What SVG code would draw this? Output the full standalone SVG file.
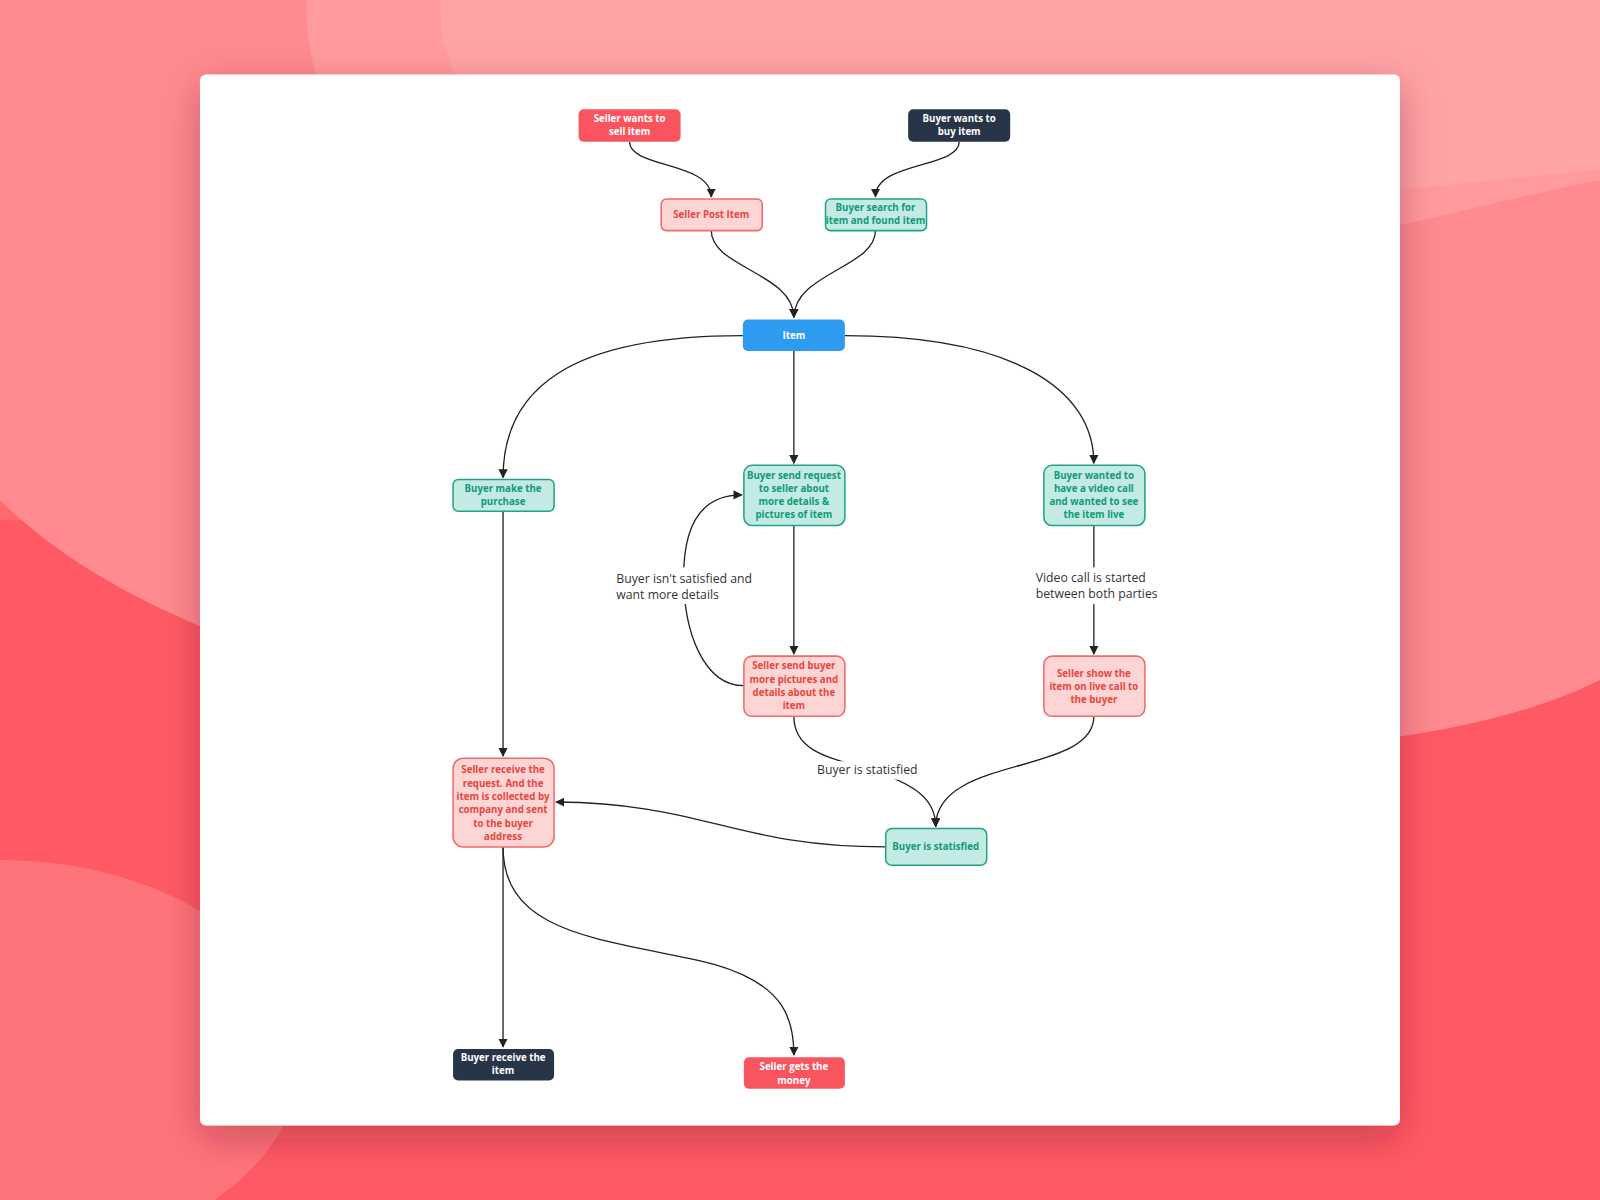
<svg xmlns="http://www.w3.org/2000/svg" width="1600" height="1200" viewBox="0 0 1600 1200">
<defs>
<marker id="ah" viewBox="0 0 10 10" refX="9" refY="5" markerWidth="7" markerHeight="7" orient="auto"><path d="M0,0 L10,5 L0,10 z" fill="#222"/></marker>
<filter id="sh" x="-10%" y="-10%" width="120%" height="130%"><feDropShadow dx="0" dy="12" stdDeviation="18" flood-color="#6a1a25" flood-opacity="0.35"/></filter>
<style>
.t{font-family:"Open Sans","Liberation Sans",sans-serif;font-weight:bold;font-size:9.5px;text-anchor:middle}
.l{font-family:"Open Sans","Liberation Sans",sans-serif;font-size:12px;fill:#333}
.red rect{fill:#f9555f}.red text{fill:#fff}
.dark rect{fill:#283549}.dark text{fill:#fff}
.blue rect{fill:#2d9bf0}.blue text{fill:#fff}
.pink rect{fill:#fdd5d5;stroke:#f06a6a;stroke-width:1.5}.pink text{fill:#e8463e}
.teal rect{fill:#c4ebe3;stroke:#1fa38a;stroke-width:1.5}.teal text{fill:#11997c}
#edges path{fill:none;stroke:#222;stroke-width:1.3;marker-end:url(#ah)}
</style>
</defs>
<rect width="1600" height="1200" fill="#ff5a63"/>
<rect x="0" y="0" width="320" height="520" fill="#ff6a70"/>
<path d="M0,0 H1600 V680 C1400,780 1000,760 600,720 C300,690 100,600 0,500 Z" fill="#ff8a8f"/>
<path d="M306,0 H1600 V180 C1400,220 1150,300 900,300 C600,300 306,250 306,0 Z" fill="#ff9a9e"/>
<path d="M440,0 H1600 V170 C1300,200 1000,230 700,200 C500,180 440,100 440,0 Z" fill="#ffa3a6"/>
<ellipse cx="0" cy="1060" rx="300" ry="200" fill="#ff747b"/>
<g transform="scale(1.0204)">
<rect x="196" y="73" width="1176" height="1030" rx="6" fill="#fff" filter="url(#sh)"/>
<g id="edges">
<path d="M617,139 C617,165 697,158 697,193"/>
<path d="M940,139 C940,165 858,158 858,193"/>
<path d="M697,226 C697,262 778,268 778,311"/>
<path d="M858,226 C858,262 778,268 778,311"/>
<path d="M728,329 C560,329 493,380 493,468"/>
<path d="M778,344 L778,454"/>
<path d="M828,329 C990,329 1072,380 1072,454"/>
<path d="M493,501 L493,741"/>
<path d="M778,515 L778,641"/>
<path d="M729,672 C690,672 670,620 670,565 C670,510 690,485 727,485"/>
<path d="M1072,515 L1072,641"/>
<path d="M778,702 C778,735 810,742 845,752 C900,768 917,785 917,810"/>
<path d="M1072,702 C1072,760 917,740 917,810"/>
<path d="M868,830 C720,830 690,787 545,786"/>
<path d="M493,830 L493,1026"/>
<path d="M493,830 C493,920 600,920 700,945 C770,965 778,1000 778,1034"/>
<rect x="602" y="556" width="134" height="36" fill="#fff"/>
<text class="l" x="604" y="571">Buyer isn't satisfied and</text>
<text class="l" x="604" y="587">want more details</text>
<rect x="1013" y="556" width="120" height="36" fill="#fff"/>
<text class="l" x="1015" y="570">Video call is started</text>
<text class="l" x="1015" y="586">between both parties</text>
<rect x="800" y="746" width="100" height="18" fill="#fff"/>
<text class="l" x="850" y="759" text-anchor="middle">Buyer is statisfied</text>
</g>
<g id="n1" class="red"><rect x="567" y="107" width="100" height="32" rx="5"/><text class="t" x="617" y="120">Seller wants to</text><text class="t" x="617" y="132">sell item</text></g>
<g id="n2" class="dark"><rect x="890" y="107" width="100" height="32" rx="5"/><text class="t" x="940" y="120">Buyer wants to</text><text class="t" x="940" y="132">buy item</text></g>
<g id="n3" class="pink"><rect x="648" y="195" width="99" height="31" rx="5"/><text class="t" x="697" y="214">Seller Post Item</text></g>
<g id="n4" class="teal"><rect x="809" y="195" width="99" height="31" rx="5"/><text class="t" x="858" y="207">Buyer search for</text><text class="t" x="858" y="220">item and found item</text></g>
<g id="n5" class="blue"><rect x="728" y="313" width="100" height="31" rx="5"/><text class="t" x="778" y="332">Item</text></g>
<g id="n6" class="teal"><rect x="444" y="470" width="99" height="31" rx="5"/><text class="t" x="493" y="482">Buyer make the</text><text class="t" x="493" y="495">purchase</text></g>
<g id="n7" class="teal"><rect x="729" y="456" width="99" height="59" rx="8"/><text class="t" x="778" y="469">Buyer send request</text><text class="t" x="778" y="482">to seller about</text><text class="t" x="778" y="495">more details &amp;</text><text class="t" x="778" y="508">pictures of item</text></g>
<g id="n8" class="teal"><rect x="1023" y="456" width="99" height="59" rx="8"/><text class="t" x="1072" y="469">Buyer wanted to</text><text class="t" x="1072" y="482">have a video call</text><text class="t" x="1072" y="495">and wanted to see</text><text class="t" x="1072" y="508">the item live</text></g>
<g id="n9" class="pink"><rect x="729" y="643" width="99" height="59" rx="8"/><text class="t" x="778" y="656">Seller send buyer</text><text class="t" x="778" y="669">more pictures and</text><text class="t" x="778" y="682">details about the</text><text class="t" x="778" y="695">item</text></g>
<g id="n10" class="pink"><rect x="1023" y="643" width="99" height="59" rx="8"/><text class="t" x="1072" y="663">Seller show the</text><text class="t" x="1072" y="676">item on live call to</text><text class="t" x="1072" y="689">the buyer</text></g>
<g id="n11" class="pink"><rect x="444" y="743" width="99" height="87" rx="10"/><text class="t" x="493" y="758">Seller receive the</text><text class="t" x="493" y="771">request. And the</text><text class="t" x="493" y="784">item is collected by</text><text class="t" x="493" y="797">company and sent</text><text class="t" x="493" y="810">to the buyer</text><text class="t" x="493" y="823">address</text></g>
<g id="n12" class="teal"><rect x="868" y="812" width="99" height="36" rx="6"/><text class="t" x="917" y="833">Buyer is statisfied</text></g>
<g id="n13" class="dark"><rect x="444" y="1028" width="99" height="31" rx="5"/><text class="t" x="493" y="1040">Buyer receive the</text><text class="t" x="493" y="1053">item</text></g>
<g id="n14" class="red"><rect x="729" y="1036" width="99" height="31" rx="5"/><text class="t" x="778" y="1049">Seller gets the</text><text class="t" x="778" y="1062">money</text></g>
</g>
</svg>
